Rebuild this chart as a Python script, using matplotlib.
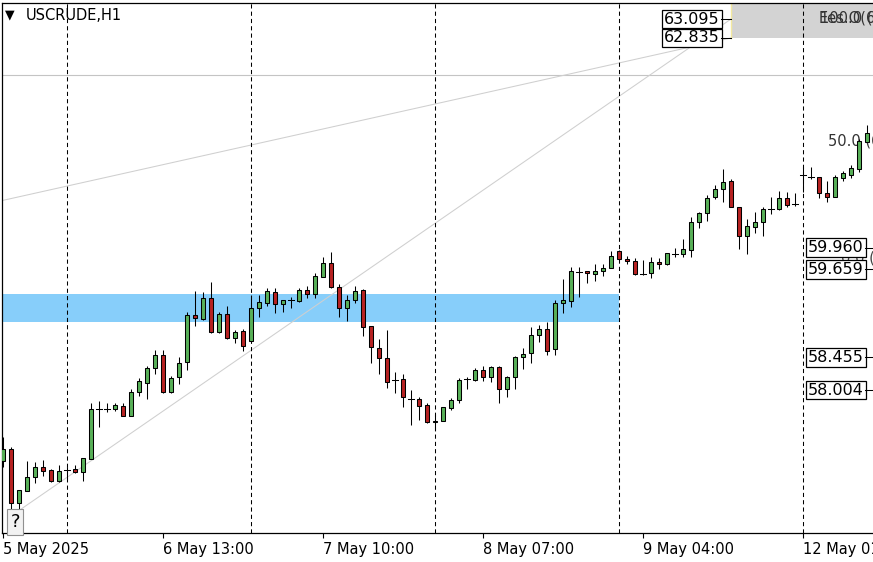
import matplotlib
matplotlib.use("Agg")
import matplotlib.pyplot as plt
from matplotlib.patches import Rectangle

symbol = "USCRUDE,H1"

# H1 candles, first bar = 5 May 16:00
opens = [57.031, 57.196, 56.455, 56.620, 56.812, 56.949, 56.908, 56.757, 56.908, 56.921,
         56.880, 57.059, 57.745, 57.745, 57.745, 57.786, 57.649, 57.978, 58.101, 58.307,
         58.485, 57.978, 58.184, 58.389, 59.034, 58.979, 59.267, 58.801, 59.048, 58.719,
         58.815, 58.677, 59.130, 59.199, 59.350, 59.185, 59.240, 59.226, 59.377, 59.322,
         59.556, 59.748, 59.418, 59.130, 59.240, 59.377, 58.883, 58.581, 58.444, 58.142,
         58.156, 57.882, 57.882, 57.799, 57.566, 57.580, 57.758, 57.868, 58.156, 58.142,
         58.280, 58.184, 58.321, 58.019, 58.184, 58.458, 58.513, 58.760, 58.842, 58.568,
         59.199, 59.226, 59.624, 59.638, 59.597, 59.638, 59.679, 59.912, 59.803, 59.775,
         59.597, 59.610, 59.761, 59.734, 59.871, 59.871, 59.926, 60.310, 60.434, 60.653,
         60.763, 60.873, 60.516, 60.118, 60.242, 60.310, 60.489, 60.489, 60.639, 60.557,
         60.955, 60.928, 60.928, 60.708, 60.653, 60.914, 60.955, 61.037, 61.408]
highs = [57.360, 57.223, 56.633, 57.031, 57.017, 57.045, 56.921, 56.976, 56.949, 56.976,
         57.072, 57.827, 57.854, 57.827, 57.827, 57.827, 58.019, 58.170, 58.334, 58.554,
         58.554, 58.197, 58.458, 59.075, 59.364, 59.350, 59.487, 59.075, 59.158, 58.828,
         58.842, 59.309, 59.309, 59.405, 59.405, 59.240, 59.281, 59.405, 59.432, 59.610,
         59.830, 59.899, 59.460, 59.309, 59.432, 59.391, 58.883, 58.705, 58.828, 58.252,
         58.225, 58.005, 57.909, 57.827, 57.676, 57.772, 57.895, 58.170, 58.184, 58.307,
         58.334, 58.334, 58.334, 58.197, 58.472, 58.581, 58.870, 58.897, 58.938, 59.240,
         59.528, 59.693, 59.693, 59.638, 59.734, 59.734, 59.912, 59.926, 59.844, 59.816,
         59.789, 59.830, 59.816, 59.885, 59.953, 60.077, 60.379, 60.447, 60.681, 60.818,
         61.037, 60.900, 60.516, 60.351, 60.447, 60.516, 60.653, 60.736, 60.722, 60.708,
         61.065, 61.065, 60.928, 60.873, 60.955, 61.010, 61.092, 61.449, 61.641]
lows = [56.949, 56.359, 56.331, 56.620, 56.729, 56.825, 56.743, 56.743, 56.784, 56.866,
        56.757, 57.059, 57.498, 57.703, 57.717, 57.649, 57.649, 57.923, 57.882, 58.225,
        57.964, 57.964, 58.088, 58.280, 58.883, 58.966, 58.787, 58.787, 58.705, 58.650,
        58.540, 58.664, 59.007, 59.158, 59.062, 59.075, 59.130, 59.213, 59.267, 59.267,
        59.556, 59.405, 59.007, 58.952, 59.199, 58.746, 58.376, 58.225, 58.033, 57.964,
        57.772, 57.525, 57.594, 57.552, 57.456, 57.580, 57.731, 57.827, 58.019, 58.129,
        58.129, 58.115, 57.827, 57.909, 58.019, 58.293, 58.376, 58.664, 58.485, 58.485,
        59.062, 59.144, 59.281, 59.473, 59.501, 59.569, 59.679, 59.789, 59.734, 59.583,
        59.583, 59.542, 59.665, 59.720, 59.830, 59.830, 59.830, 60.228, 60.324, 60.626,
        60.585, 60.516, 59.940, 59.871, 60.159, 60.118, 60.420, 60.475, 60.516, 60.530,
        60.722, 60.900, 60.639, 60.585, 60.653, 60.873, 60.914, 60.996, 61.408]
closes = [57.196, 56.455, 56.633, 56.812, 56.949, 56.894, 56.757, 56.894, 56.905, 56.880,
          57.072, 57.745, 57.742, 57.748, 57.799, 57.649, 57.978, 58.129, 58.307, 58.485,
          57.978, 58.170, 58.376, 59.034, 58.993, 59.267, 58.801, 59.048, 58.719, 58.801,
          58.609, 59.130, 59.213, 59.364, 59.185, 59.240, 59.237, 59.377, 59.322, 59.569,
          59.748, 59.418, 59.130, 59.240, 59.364, 58.870, 58.595, 58.444, 58.115, 58.139,
          57.909, 57.879, 57.786, 57.566, 57.580, 57.772, 57.868, 58.142, 58.153, 58.280,
          58.184, 58.321, 58.019, 58.184, 58.458, 58.499, 58.760, 58.842, 58.540, 59.199,
          59.240, 59.638, 59.621, 59.610, 59.638, 59.679, 59.844, 59.803, 59.775, 59.597,
          59.594, 59.761, 59.734, 59.885, 59.874, 59.940, 60.310, 60.434, 60.639, 60.763,
          60.859, 60.516, 60.118, 60.255, 60.310, 60.489, 60.492, 60.639, 60.543, 60.554,
          60.952, 60.925, 60.708, 60.653, 60.928, 60.982, 61.051, 61.421, 61.531]

tick_bars = [0, 20, 40, 60, 80, 100]
tick_labels = ["5 May 2025", "6 May 13:00", "7 May 10:00", "8 May 07:00",
               "9 May 04:00", "12 May 01:00"]
day_starts = [8, 31, 54, 77, 100]   # period separators

# objects on the chart
zone_low, zone_high, zone_end = 58.938, 59.322, 77
level_line = 62.327
fibo_start, fibo_low, fibo_top = 91, 62.835, 63.355
trend_a = ([-0.375, 91], [60.598, 62.835])
trend_b = ([2.1, 91], [56.359, 63.095])
top_labels = [63.095, 62.835]
right_labels = [59.960, 59.659, 58.455, 58.004]

up_color = "#58b058"
down_color = "#b72222"

W, H = 873, 562
fig = plt.figure(figsize=(W / 100, H / 100), dpi=100)
ax = fig.add_axes([2 / W, 29 / H, 871 / W, 530 / H])
ax.set_xlim(-0.125, 108.75)
ax.set_ylim(56.043, 63.315)

# zone, level line, trend lines, fibo box
ax.add_patch(Rectangle((-1, zone_low), zone_end + 1, zone_high - zone_low,
                       fc="#87cefa", ec="none", zorder=1))
ax.axhline(level_line, color="#c4c4c4", lw=0.8, zorder=1)
ax.plot(*trend_a, color="#cfcfcf", lw=0.75, zorder=2)
ax.plot(*trend_b, color="#cfcfcf", lw=0.75, zorder=2)
ax.add_patch(Rectangle((fibo_start, fibo_low), 20, fibo_top - fibo_low,
                       fc="#d3d3d3", ec="none", zorder=1))
ax.plot([fibo_start, fibo_start], [fibo_low, fibo_top], color="#f3e9a0", lw=1, zorder=2)

for d in day_starts:
    ax.axvline(d, color="black", lw=0.75, ls=(0, (4, 3)), zorder=2)

ax.text(102.0, 63.115, "Ees.O(62.835)", fontsize=10.5, color="#333333", va="center", zorder=2)
ax.text(102.1, 63.115, "100.0 (63.095)", fontsize=10.5, color="#333333", va="center", zorder=2)
ax.text(103.1, 61.42, "50.0 (61.965)", fontsize=10.5, color="#333333", va="center", zorder=2)

# candles
for i in range(len(opens)):
    o, h, l, c = opens[i], highs[i], lows[i], closes[i]
    ax.plot([i, i], [l, h], color="black", lw=0.75, zorder=3, solid_capstyle="butt")
    if abs(c - o) < 0.004:
        ax.plot([i - 0.32, i + 0.32], [o, o], color="black", lw=0.75, zorder=4)
    else:
        fill = up_color if c > o else down_color
        ax.add_patch(Rectangle((i - 0.28, min(o, c)), 0.56, abs(c - o),
                               fc=fill, ec="black", lw=0.75, zorder=4))

ax.text(104.7, 59.81, "0.0 (59.659)", fontsize=10.5, color="#444444", va="center", zorder=6)

# price labels
box = dict(boxstyle="square,pad=0.12", fc="white", ec="black", lw=0.9)
for p in top_labels:
    ax.text(89.6, p, f"{p:.3f}", fontsize=11.5, ha="right", va="center", bbox=box, zorder=7)
    ax.plot([89.75, 91], [p, p], color="black", lw=0.75, zorder=7)
for p in right_labels:
    ax.text(107.6, p, f"{p:.3f}", fontsize=11.5, ha="right", va="center", bbox=box, zorder=7)
    ax.plot([107.75, 108.75], [p, p], color="black", lw=0.75, zorder=7)

# axes look
for s in ["left", "top", "bottom"]:
    ax.spines[s].set_linewidth(0.9)
ax.spines["right"].set_visible(False)
ax.set_yticks([])
ax.set_xticks(tick_bars)
ax.set_xticklabels(tick_labels, ha="left", fontsize=10.5)
ax.tick_params(axis="x", length=3.5, width=0.8, pad=3, direction="out")

fig.text(5 / W, 1 - 15 / H, "\u25bc", fontsize=9, va="center")
fig.text(26 / W, 1 - 15 / H, symbol, fontsize=10.5, va="center")
fig.text(15 / W, 1 - 522 / H, "?", fontsize=13, ha="center", va="center",
         bbox=dict(boxstyle="square,pad=0.2", fc="#f2f2f2", ec="#909090", lw=0.8))

fig.savefig("out.png", dpi=100)
